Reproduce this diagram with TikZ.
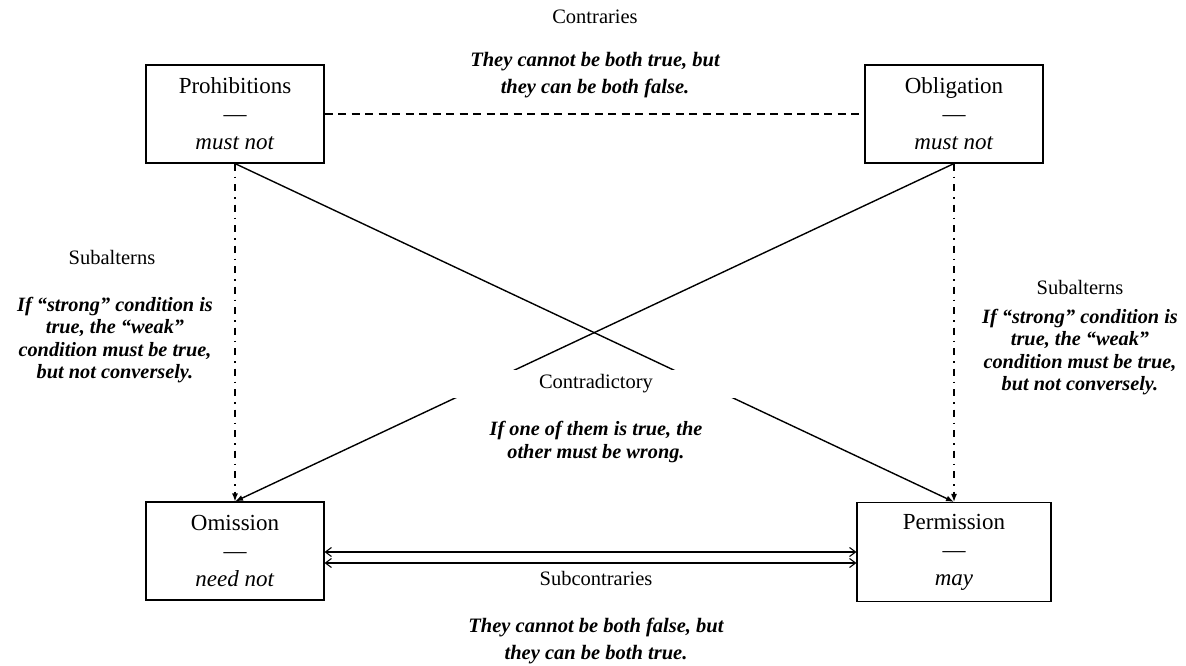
\documentclass[tikz,border=0pt]{standalone}
\usepackage{fontspec}
\setmainfont{Liberation Serif}
\usetikzlibrary{arrows.meta}
\begin{document}
\begin{tikzpicture}[x=1pt,y=-1pt,
 box/.style={draw, line width=1.1pt, minimum width=178pt, minimum height=98pt, align=center, font=\fontsize{23}{28}\selectfont, inner sep=0pt},
 lbl/.style={font=\fontsize{20.5}{24}\selectfont, inner sep=0pt},
 note/.style={font=\fontsize{20.5}{27}\selectfont\bfseries\itshape, align=center, inner sep=0pt},
 notes/.style={font=\fontsize{20.3}{22.5}\selectfont\bfseries\itshape, align=center, inner sep=0pt},
 conn/.style={line width=1.4pt},
 tipf/.style={-{Latex[length=8pt,width=6pt]}},
 dd/.style={line width=1.4pt, dash pattern=on 7pt off 6pt on 1.5pt off 6pt},
 ds/.style={line width=1.4pt, dash pattern=on 8pt off 5.5pt},
 barbs/.style={{Straight Barb[length=6pt,width=9pt]}-{Straight Barb[length=6pt,width=9pt]}},
]
\useasboundingbox (0,0) rectangle (1186,665);
% boxes
\node[box] (P) at (235,114) {Prohibitions\\—\\\textit{must not}};
\node[box] (O) at (954,114) {Obligation\\—\\\textit{must not}};
\node[box] (M) at (235,551) {Omission\\—\\\textit{need not}};
\node[box, minimum width=194pt, minimum height=99pt] (R) at (954,552) {Permission\\—\\\textit{may}};
% connectors
\draw[ds] (P.east) -- (O.west);
\draw[conn,tipf] (P.south) -- (R.north);
\draw[conn,tipf] (O.south) -- (M.north);
\draw[dd,tipf] (P.south) -- (M.north);
\draw[dd,tipf] (O.south) -- (R.north);
\draw[line width=1.1pt,barbs] ([yshift=-1pt]M.east) -- ([yshift=-1pt]M.east -| R.west);
\draw[line width=1.1pt,barbs] ([yshift=-12pt]M.east) -- ([yshift=-12pt]M.east -| R.west);
% labels
\node[lbl] (lc) at (595,17) {Contraries};
\node[note] (nc) at (595,75) {They cannot be both true, but\\they can be both false.};
\node[lbl] (ls1) at (112,257) {Subalterns};
\node[notes] (ns1) at (115,340) {If “strong” condition is\\true, the “weak”\\condition must be true,\\but not conversely.};
\node[lbl] (ls2) at (1080,287) {Subalterns};
\node[notes] (ns2) at (1080,352) {If “strong” condition is\\true, the “weak”\\condition must be true,\\but not conversely.};
\node[lbl, fill=white, minimum width=300pt, minimum height=28pt] (lx) at (596,384) {Contradictory};
\node[notes] (nx) at (596,442) {If one of them is true, the\\other must be wrong.};
\node[lbl] (lsc) at (596,578) {Subcontraries};
\node[note] (nsc) at (596,641) {They cannot be both false, but\\they can be both true.};
\end{tikzpicture}
\end{document}
